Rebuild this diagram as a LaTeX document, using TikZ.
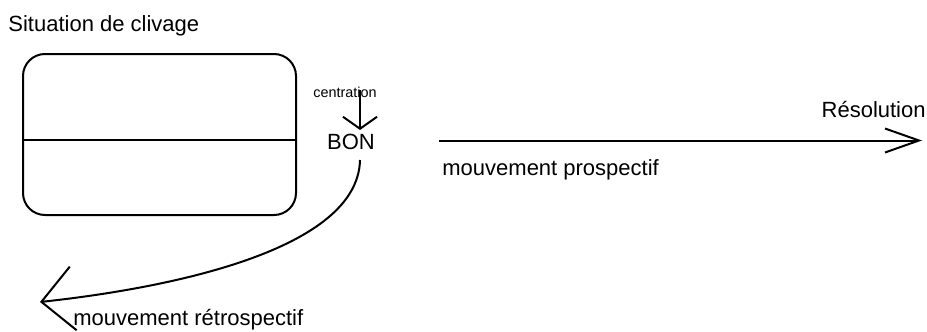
\documentclass[tikz,border=0pt]{standalone}
\usepackage{fontspec}
\setmainfont{Liberation Sans}
\usetikzlibrary{arrows.meta}
\begin{document}
\begin{tikzpicture}[x=0.5pt,y=-0.5pt,
  lbl/.style={inner sep=0pt, font=\fontsize{11pt}{12pt}\selectfont},
  small/.style={inner sep=0pt, font=\fontsize{7.2pt}{8pt}\selectfont},
  ln/.style={line width=1pt, black},
  boxstyle/.style={draw, line width=1pt, rounded corners=11pt, minimum width=136.5pt, minimum height=80.5pt, inner sep=0pt}]
\useasboundingbox (0,0) rectangle (927,332);
% title
\node[lbl, anchor=base west] (title) at (8,32) {Situation de clivage};
% box
\node[boxstyle] (box) at (159.5,134.5) {};
\coordinate (dl) at (23,140);
\coordinate (dr) at (296,140);
\draw[line width=0.8pt] (dl) -- (dr);
% centration
\node[small, anchor=base west] (centr) at (313,97) {centration};
\coordinate (cstart) at (360,90);
\node[lbl, anchor=base] (bon) at (351,149) {BON};
\coordinate (ctip) at (360,130);
\draw[ln, -{Straight Barb[length=6pt, width=17pt]}] (cstart) -- (ctip);
% prospective
\coordinate (pstart) at (439,140.5);
\coordinate (ptip) at (922,140.5);
\draw[ln, -{Straight Barb[length=17pt, width=12pt]}] (pstart) -- (ptip);
\node[lbl, anchor=base east] (res) at (926,117) {Résolution};
\node[lbl, anchor=base west] (prosp) at (442,175) {mouvement prospectif};
% retrospective
\coordinate (rstart) at (360,160);
\coordinate (rtip) at (40,302);
\draw[ln, -{Straight Barb[length=16pt, width=32pt]}] (rstart) .. controls (358,250) and (170,288) .. (rtip);
\node[lbl, anchor=base west] (retro) at (73,325) {mouvement rétrospectif};
\end{tikzpicture}
\end{document}
